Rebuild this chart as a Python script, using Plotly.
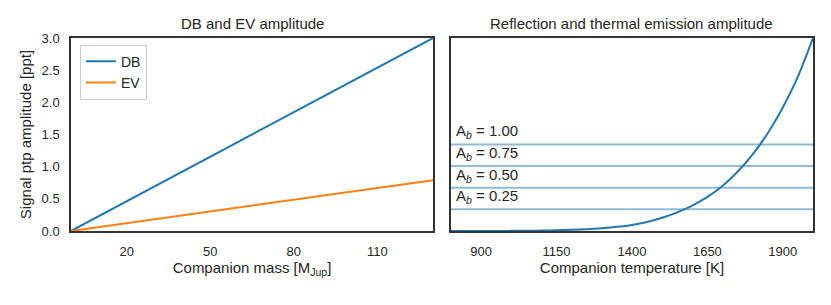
import plotly.graph_objects as go

# ---- data ----
mass = [0, 20, 50, 80, 110, 130]
db_amp = [0.0, 0.46, 1.15, 1.85, 2.54, 3.0]
ev_amp = [0.0, 0.12, 0.30, 0.49, 0.67, 0.79]

temp = [800, 850, 900, 950, 1000, 1050, 1100, 1150, 1200, 1250, 1300, 1350,
        1400, 1450, 1500, 1550, 1600, 1650, 1700, 1750, 1800, 1850, 1900, 1950, 2000]
thermal_amp = [0.000, 0.000, 0.000, 0.001, 0.002, 0.004, 0.007, 0.012, 0.019, 0.029,
               0.044, 0.065, 0.095, 0.140, 0.205, 0.290, 0.395, 0.530, 0.700, 0.920,
               1.190, 1.520, 1.920, 2.400, 3.000]

albedo_labels = ["1.00", "0.75", "0.50", "0.25"]
refl_amp = [1.346, 1.012, 0.672, 0.337]

x_ticks_mass = [20, 50, 80, 110]
x_ticks_temp = [900, 1150, 1400, 1650, 1900]
y_ticks = [0.0, 0.5, 1.0, 1.5, 2.0, 2.5, 3.0]

BLUE = "#1f77b4"
ORANGE = "#ff7f0e"
LIGHTBLUE = "#8fbbd9"
TXT = "#262626"
FONT = "Liberation Sans, Arial, sans-serif"

fig = go.Figure()
fig.add_trace(go.Scatter(x=mass, y=db_amp, mode="lines", name="DB",
                         line=dict(color=BLUE, width=2), xaxis="x", yaxis="y"))
fig.add_trace(go.Scatter(x=mass, y=ev_amp, mode="lines", name="EV",
                         line=dict(color=ORANGE, width=2), xaxis="x", yaxis="y"))

for lab, r in zip(albedo_labels, refl_amp):
    fig.add_trace(go.Scatter(x=[temp[0], temp[-1]], y=[r, r], mode="lines",
                             line=dict(color=LIGHTBLUE, width=2), showlegend=False,
                             xaxis="x2", yaxis="y2", hoverinfo="skip"))
    fig.add_annotation(x=temp[0], y=r, xref="x2", yref="y2", text="A<sub><i>b</i></sub> = " + lab,
                       showarrow=False, xanchor="left", yanchor="bottom", xshift=3, yshift=1,
                       font=dict(size=15, color=TXT, family=FONT))

fig.add_trace(go.Scatter(x=temp, y=thermal_amp, mode="lines",
                         line=dict(color=BLUE, width=2, shape="spline", smoothing=0.8),
                         showlegend=False, xaxis="x2", yaxis="y2"))

axis_common = dict(showgrid=False, zeroline=False, showline=True, mirror=True,
                   linecolor="#333333", linewidth=1.5, ticks="",
                   tickfont=dict(size=13, color=TXT, family=FONT))

# page body has an 8px margin, so the figure starts at (8, 8)
fig.update_layout(
    width=823, height=297,
    margin=dict(l=63, r=18, t=30, b=74),
    paper_bgcolor="white", plot_bgcolor="white",
    font=dict(family=FONT, color=TXT),
    xaxis=dict(domain=[0, 0.488], range=[0, 130], tickvals=x_ticks_mass,
               ticklabelstandoff=8,
               title=dict(text="Companion mass [M<sub>Jup</sub>]", font=dict(size=15, color=TXT), standoff=4),
               **axis_common),
    yaxis=dict(range=[0, 3.0], tickvals=y_ticks, ticktext=[f"{v:.1f}" for v in y_ticks],
               ticklabelstandoff=7,
               title=dict(text="Signal ptp amplitude [ppt]", font=dict(size=15, color=TXT), standoff=6),
               **axis_common),
    xaxis2=dict(domain=[0.512, 1], range=[800, 2000], tickvals=x_ticks_temp, anchor="y2",
                ticklabelstandoff=8,
                title=dict(text="Companion temperature [K]", font=dict(size=15, color=TXT), standoff=4),
                **axis_common),
    yaxis2=dict(range=[0, 3.0], anchor="x2", matches="y", showticklabels=False, **axis_common),
    legend=dict(x=0.012, y=0.965, xanchor="left", yanchor="top", bgcolor="white",
                bordercolor="#cccccc", borderwidth=1, font=dict(size=14, color=TXT, family=FONT),
                tracegroupgap=2),
    showlegend=True,
)

fig.add_annotation(text="DB and EV amplitude", xref="paper", yref="paper", x=0.244, y=1,
                   xanchor="center", yanchor="bottom", yshift=4, showarrow=False,
                   font=dict(size=15, color=TXT, family=FONT))
fig.add_annotation(text="Reflection and thermal emission amplitude", xref="paper", yref="paper", x=0.756, y=1,
                   xanchor="center", yanchor="bottom", yshift=4, showarrow=False,
                   font=dict(size=15, color=TXT, family=FONT))

fig.write_html("out.html")
